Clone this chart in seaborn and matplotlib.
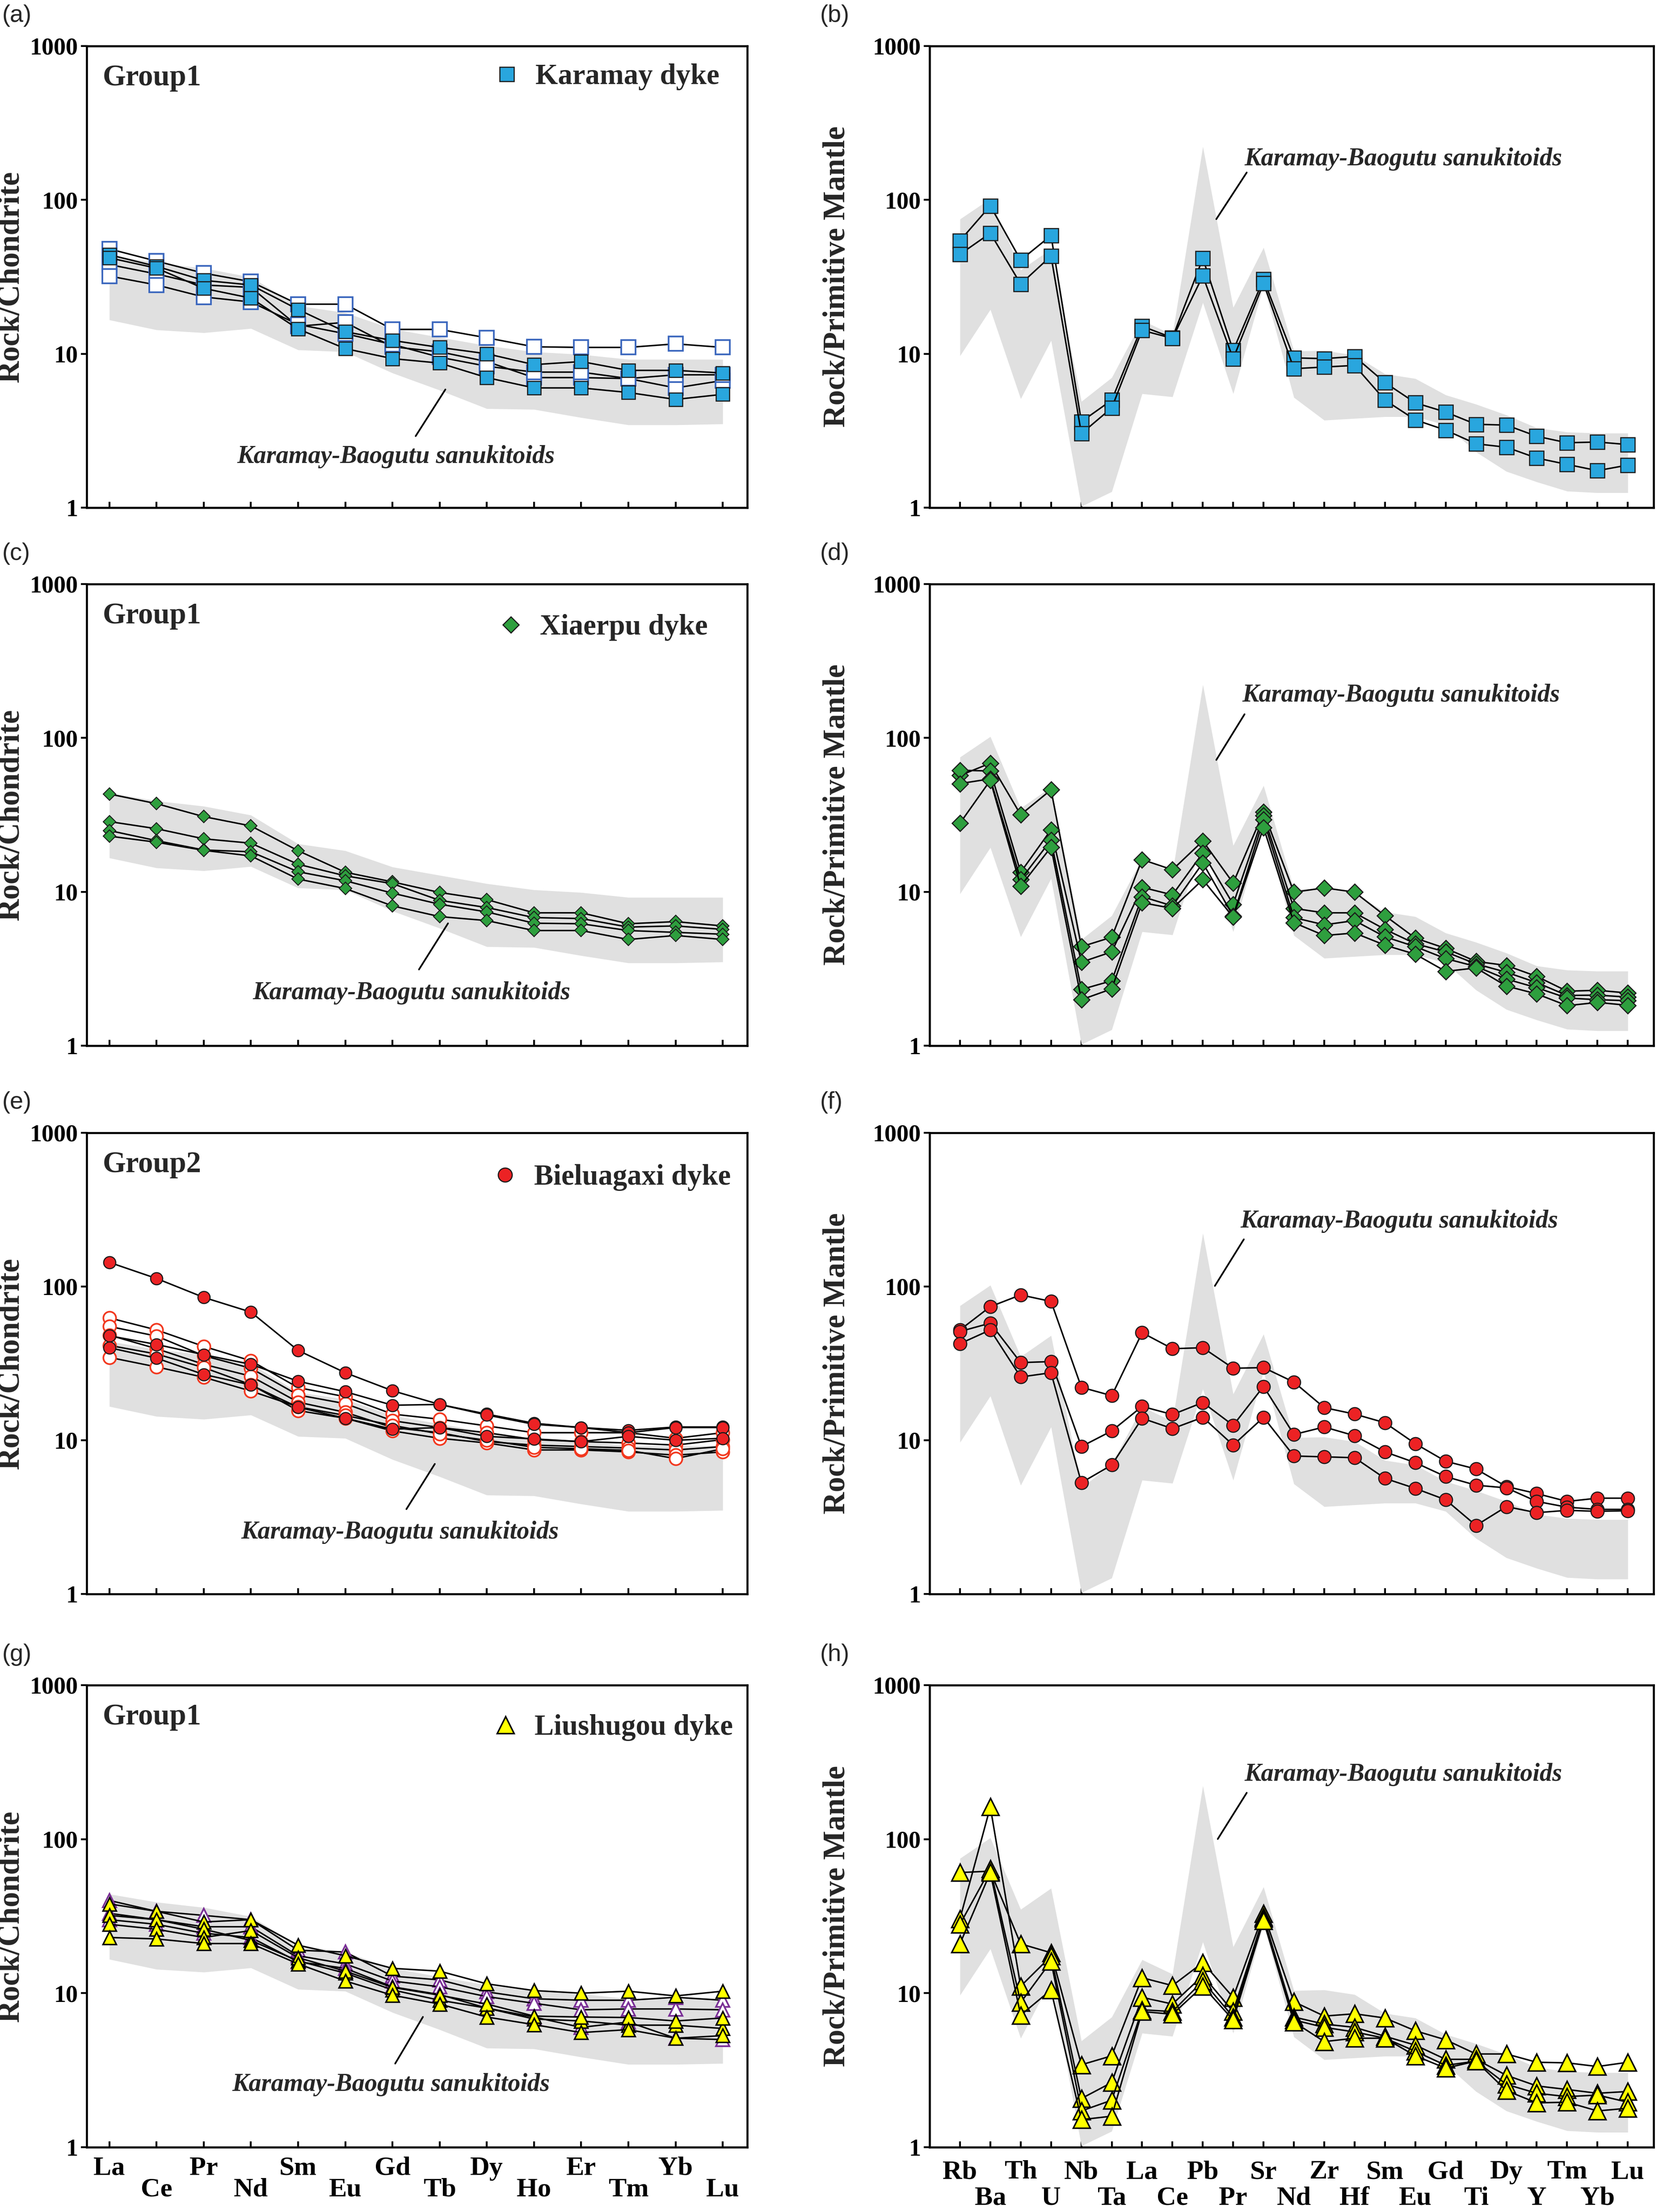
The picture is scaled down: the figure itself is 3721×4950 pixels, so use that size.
import numpy as np
import pandas as pd
import matplotlib
matplotlib.use("Agg")
import matplotlib.pyplot as plt
import seaborn as sns
from matplotlib.lines import Line2D
from matplotlib.ticker import NullLocator

# ---------------- data ----------------
REE = ['La', 'Ce', 'Pr', 'Nd', 'Sm', 'Eu', 'Gd', 'Tb', 'Dy', 'Ho', 'Er', 'Tm', 'Yb', 'Lu']
SPIDER = ['Rb', 'Ba', 'Th', 'U', 'Nb', 'Ta', 'La', 'Ce', 'Pb', 'Pr', 'Sr', 'Nd', 'Zr', 'Hf',
          'Sm', 'Eu', 'Gd', 'Ti', 'Dy', 'Y', 'Tm', 'Yb', 'Lu']

ree_band_upper = [44, 39, 36, 31.5, 20.5, 18.5, 14.5, 12.8, 11.3, 10.3, 9.9, 9.2, 9.2, 9.2]
ree_band_lower = [16.6, 14.3, 13.7, 14.6, 10.6, 10.3, 7.5, 5.8, 4.4, 4.35, 3.85, 3.45, 3.45, 3.5]

spider_band_upper = [75, 102, 35, 48, 4.9, 7.0, 16.5, 13.3, 222, 20, 49, 10.4, 10.5, 9.8,
                     7.4, 6.9, 5.4, 4.7, 4.0, 3.3, 3.1, 3.05, 3.05]
spider_band_lower = [9.7, 19.4, 5.1, 12.2, 1.02, 1.27, 5.5, 5.25, 21.5, 5.5, 28, 5.2, 3.7, 3.8,
                     3.9, 3.9, 3.45, 2.3, 1.72, 1.47, 1.28, 1.25, 1.25]

# (a) Karamay dyke, chondrite-normalised REE
karamay_ree_open = [
    [48, 40, 33.4, 29.4, 21, 21, 14.4, 14.4, 12.7, 11.1, 11.0, 11.0, 11.6, 11.0],
    [38, 33, 28, 27, 15.1, 16, 11.1, 10.3, 8.9, 7.0, 7.0, 6.9, 6.0, 6.7],
    [32, 28, 23.4, 21.7, 15.5, 13.5, 11.5, 9.5, 8.3, 7.6, 7.6, 6.9, 7.3, 7.3],
]
karamay_ree_filled = [
    [44, 37, 30, 28, 19.4, 13.9, 12.2, 11.0, 10.0, 8.5, 8.9, 7.8, 7.8, 7.5],
    [42, 36, 26.6, 23, 14.5, 10.8, 9.3, 8.7, 7.0, 6.0, 6.0, 5.6, 5.05, 5.45],
]
# (b) Karamay dyke, primitive-mantle-normalised
karamay_spider = [
    [54.3, 91.5, 40.6, 58.7, 3.62, 5.0, 15.1, 12.7, 41.7, 10.5, 30.5, 9.4, 9.3, 9.6,
     6.5, 4.8, 4.18, 3.48, 3.44, 2.91, 2.64, 2.67, 2.57],
    [44.3, 60.8, 28.4, 43.2, 3.03, 4.45, 14.2, 12.6, 32.1, 9.3, 28.7, 8.0, 8.2, 8.4,
     5.0, 3.72, 3.19, 2.6, 2.47, 2.1, 1.91, 1.74, 1.89],
]
# (c) Xiaerpu dyke REE
xiaerpu_ree = [
    [43.2, 37.4, 30.8, 26.8, 18.5, 13.4, 11.6, 9.9, 8.9, 7.3, 7.3, 6.2, 6.4, 6.0],
    [28.6, 25.7, 22.1, 20.7, 15.1, 12.7, 11.3, 8.8, 7.9, 6.8, 6.7, 5.9, 6.0, 5.7],
    [25, 21.5, 18.7, 18.2, 13.5, 11.8, 9.8, 8.3, 7.4, 6.25, 6.2, 5.6, 5.45, 5.3],
    [23, 21, 18.6, 17.1, 12.1, 10.5, 8.1, 6.9, 6.5, 5.6, 5.6, 4.9, 5.2, 4.9],
]
# (d) Xiaerpu dyke spider
xiaerpu_spider = [
    [57, 68.5, 31.7, 46, 4.4, 5.07, 16.2, 13.9, 21.4, 11.4, 33, 9.95, 10.6, 9.95,
     7.0, 5.0, 4.29, 3.53, 3.32, 2.82, 2.26, 2.29, 2.2],
    [61.6, 61, 13.4, 25.3, 3.49, 4.07, 10.7, 9.55, 17.9, 8.3, 31.4, 7.8, 7.3, 7.3,
     5.7, 4.6, 4.07, 3.4, 3.0, 2.57, 2.12, 2.13, 2.07],
    [50.5, 54.2, 12, 21.7, 2.32, 2.64, 9.3, 8.1, 15.4, 6.96, 29.4, 6.8, 6.1, 6.5,
     5.1, 4.4, 3.68, 3.27, 2.71, 2.38, 2.04, 1.99, 1.96],
    [27.9, 53, 10.9, 19.5, 1.99, 2.34, 8.5, 7.8, 12, 6.85, 26.2, 6.3, 5.2, 5.4,
     4.5, 3.93, 3.04, 3.2, 2.44, 2.17, 1.82, 1.91, 1.83],
]
# (e) Bieluagaxi dyke REE
bieluagaxi_ree_open = [
    [62.5, 52.2, 40.8, 32.9, 22, 19.2, 14.8, 13.7, 12.4, 11.2, 11.2, 11.2, 10.3, 11.2],
    [55, 47.6, 35.5, 29.4, 19.7, 17.3, 13.4, 12.1, 11.2, 10.1, 9.8, 9.6, 9.3, 10.1],
    [48.3, 39.4, 31.2, 26.1, 17.7, 15.2, 12.1, 11.2, 9.8, 9.3, 9.1, 8.9, 8.65, 9.1],
    [41.4, 36.4, 29.7, 23, 15.6, 13.9, 11.5, 10.3, 9.6, 8.65, 8.65, 8.4, 8.0, 8.4],
    [34.6, 30, 25.7, 20.9, 16.5, 14.5, 12.5, 11.0, 10.0, 9.0, 8.8, 8.6, 7.6, 8.8],
]
bieluagaxi_ree_filled = [
    [143.6, 112.8, 85, 68.2, 38.4, 27.5, 21, 17.1, 14.8, 12.9, 12.1, 11.6, 12.2, 12.2],
    [47.8, 42, 36, 31.2, 24.2, 20.7, 16.9, 17.1, 14.6, 12.7, 12.1, 11.2, 12.1, 12.1],
    [40, 34.2, 26.8, 22.9, 16.4, 13.9, 11.8, 12.1, 10.6, 10.2, 9.8, 10.6, 10.0, 10.3],
]
# (f) Bieluagaxi dyke spider
bieluagaxi_spider = [
    [52.2, 74, 88.2, 80, 22.1, 19.5, 50.1, 39.4, 40, 29.4, 29.7, 23.9, 16.3, 14.8,
     13.0, 9.5, 7.3, 6.5, 5.0, 4.5, 4.0, 4.2, 4.2],
    [51, 57.8, 32, 32.5, 9.1, 11.5, 16.6, 14.7, 17.6, 12.5, 22.4, 10.9, 12.2, 10.7,
     8.4, 7.15, 5.8, 5.1, 4.9, 4.0, 3.67, 3.55, 3.55],
    [42.5, 52.2, 25.8, 27.5, 5.3, 6.9, 13.9, 11.9, 14.1, 9.3, 14.1, 7.9, 7.8, 7.7,
     5.65, 4.86, 4.1, 2.79, 3.7, 3.38, 3.5, 3.45, 3.48],
]
# (g) Liushugou dyke REE
liushugou_ree_open = [
    [40, 34, 32, 30, 19, 18.5, 12.9, 12.2, 10.2, 9.2, 9.0, 9.0, 9.4, 9.0],
    [33, 30, 27, 27, 17.5, 15.5, 12.0, 11.0, 9.5, 8.6, 7.8, 7.9, 7.9, 7.8],
    [30, 28, 24.5, 23, 16.0, 14.5, 11.0, 9.8, 8.0, 7.0, 6.0, 6.5, 5.1, 5.0],
]
liushugou_ree_filled = [
    [38, 34, 29, 30, 20.5, 17.5, 14.5, 13.9, 11.5, 10.4, 10.0, 10.3, 9.6, 10.3],
    [32, 30, 26, 22, 16.2, 13.5, 10.5, 9.0, 8.0, 6.8, 6.6, 6.2, 6.2, 5.9],
    [28, 26, 23, 25.5, 17.0, 13.9, 10.9, 9.7, 8.5, 7.1, 7.0, 6.95, 6.6, 6.9],
    [23, 22.5, 21, 21, 15.5, 12, 9.7, 8.5, 7.0, 6.25, 5.55, 5.8, 5.1, 5.3],
]
# (h) Liushugou dyke spider
liushugou_spider = [
    [60.7, 62, 20.9, 18.3, 3.43, 3.92, 12.6, 11.2, 15.8, 9.4, 32.9, 8.8, 7.1, 7.35,
     6.9, 5.7, 4.98, 4.03, 4.03, 3.56, 3.53, 3.34, 3.56],
    [30.4, 162, 11.1, 17.4, 2.07, 2.63, 9.4, 8.5, 13, 7.6, 31.2, 7.0, 6.3, 6.0,
     5.25, 4.6, 3.72, 3.72, 2.93, 2.5, 2.37, 2.24, 2.3],
    [28, 64, 8.7, 16.1, 1.72, 2.02, 7.8, 7.6, 12, 7.0, 30.5, 6.7, 6.0, 5.6,
     5.1, 4.2, 3.4, 3.62, 2.56, 2.24, 2.13, 2.18, 1.96],
    [20.9, 60.7, 7.2, 10.5, 1.51, 1.59, 7.6, 7.3, 11.1, 6.7, 29.6, 6.5, 4.85, 5.1,
     5.1, 3.92, 3.26, 3.62, 2.33, 1.94, 1.96, 1.72, 1.79],
]

panel_letters = ['(a)', '(b)', '(c)', '(d)', '(e)', '(f)', '(g)', '(h)']
group_labels = ['Group1', 'Group1', 'Group2', 'Group1']
dyke_names = ['Karamay dyke', 'Xiaerpu dyke', 'Bieluagaxi dyke', 'Liushugou dyke']
band_label = 'Karamay-Baogutu sanukitoids'

# ---------------- style ----------------
sns.set_theme(style="ticks")
plt.rcParams['font.family'] = ['Liberation Serif', 'DejaVu Serif']

BLUE = '#29a6de'
BLUE_EDGE = '#3a66bd'
GREEN = '#2e9f3e'
RED = '#ec2224'
RED_EDGE = '#f2381f'
YELLOW = '#ffff00'
PURPLE = '#7a2f96'
BAND = '#e0e0e0'
DARK = '#1a1a1a'

W, H = 3721, 4950
fig = plt.figure(figsize=(W / 300, H / 300), dpi=300)

rows_px = [(103, 1136), (1307, 2340), (2535, 3567), (3771, 4805)]
left_px = (194, 1672)
right_px = (2080, 3700)


def make_ax(xpx, ypx):
    x0, x1 = xpx
    y0, y1 = ypx
    return fig.add_axes([x0 / W, 1 - y1 / H, (x1 - x0) / W, (y1 - y0) / H])


def style_axes(ax, names, xlim, show_labels, ylabel, ylabel_x, pads):
    ax.set_yscale('log')
    ax.set_ylim(1, 1000)
    ax.set_xlim(*xlim)
    ax.set_yticks([1, 10, 100, 1000])
    ax.set_yticklabels(['1', '10', '100', '1000'], fontsize=13, fontweight='bold')
    ax.yaxis.set_minor_locator(NullLocator())
    pos = np.arange(len(names))
    ax.set_xticks(pos[0::2])
    ax.set_xticks(pos[1::2], minor=True)
    if show_labels:
        ax.set_xticklabels(names[0::2], fontsize=14.5, fontweight='bold')
        ax.set_xticklabels(names[1::2], minor=True, fontsize=14.5, fontweight='bold')
    else:
        ax.set_xticklabels([])
        ax.set_xticklabels([], minor=True)
    ax.tick_params(axis='x', which='major', direction='in', length=3.2, width=1.0,
                   pad=pads[0], colors='black', bottom=True, top=False)
    ax.tick_params(axis='x', which='minor', direction='in', length=3.2, width=1.0,
                   pad=pads[1], colors='black', bottom=True, top=False)
    ax.tick_params(axis='y', direction='out', length=3.2, width=1.0, pad=1.5, colors='black')
    for s in ax.spines.values():
        s.set_visible(True)
        s.set_linewidth(1.1)
        s.set_color('black')
    ax.set_xlabel('')
    ax.set_ylabel(ylabel, fontsize=16.5, fontweight='bold')
    ax.yaxis.set_label_coords(ylabel_x, 0.5)
    ax.set_facecolor('white')


def draw_series(ax, vals, marker, ms, fc, ec, mew=0.7, z=3):
    x = np.arange(len(vals))
    sns.lineplot(x=x, y=np.asarray(vals, float), ax=ax, color='black', linewidth=0.8,
                 marker=marker, markersize=ms, markerfacecolor=fc, markeredgecolor=ec,
                 markeredgewidth=mew, errorbar=None, legend=False, sort=False, zorder=z)


def draw_band(ax, lo, hi):
    x = np.arange(len(lo))
    ax.fill_between(x, lo, hi, color=BAND, lw=0, zorder=1)


def annotate_band(ax, text_xy, line_from, line_to):
    ax.text(text_xy[0], text_xy[1], band_label, transform=ax.transAxes, ha='center',
            va='center', fontsize=13.5, fontweight='bold', fontstyle='italic', zorder=6)
    ax.plot([line_from[0], line_to[0]], [line_from[1], line_to[1]], transform=ax.transAxes,
            color='black', lw=0.9, zorder=6)


def add_group_legend(ax, group, name, handle, anchor):
    ax.text(0.024, 0.96, group, transform=ax.transAxes, ha='left', va='top',
            fontsize=16, fontweight='bold', zorder=6)
    ax.legend(handles=[handle], labels=[name], loc='upper right', bbox_to_anchor=anchor,
              bbox_transform=ax.transAxes, frameon=False, borderpad=0, borderaxespad=0,
              handlelength=0.9, handletextpad=0.55,
              prop={'family': 'Liberation Serif', 'weight': 'bold', 'size': 15.5})


ree_xlim = (-0.48, 13.52)
sp_xlim = (-1.0, 22.85)

axes = []
for r, (y0, y1) in enumerate(rows_px):
    axL = make_ax(left_px, (y0, y1))
    axR = make_ax(right_px, (y0, y1))
    axes.append((axL, axR))

# ---- row 1: Karamay ----
axL, axR = axes[0]
draw_band(axL, ree_band_lower, ree_band_upper)
for v in karamay_ree_open:
    draw_series(axL, v, 's', 7.5, 'white', BLUE_EDGE, 0.9, 3)
for v in karamay_ree_filled:
    draw_series(axL, v, 's', 7.0, BLUE, DARK, 0.6, 4)
draw_band(axR, spider_band_lower, spider_band_upper)
for v in karamay_spider:
    draw_series(axR, v, 's', 7.5, BLUE, DARK, 0.6, 4)

# ---- row 2: Xiaerpu ----
axL, axR = axes[1]
draw_band(axL, ree_band_lower, ree_band_upper)
for v in xiaerpu_ree:
    draw_series(axL, v, 'D', 4.6, GREEN, DARK, 0.5, 4)
draw_band(axR, spider_band_lower, spider_band_upper)
for v in xiaerpu_spider:
    draw_series(axR, v, 'D', 6.2, GREEN, DARK, 0.6, 4)

# ---- row 3: Bieluagaxi ----
axL, axR = axes[2]
draw_band(axL, ree_band_lower, ree_band_upper)
for v in bieluagaxi_ree_open:
    draw_series(axL, v, 'o', 6.8, 'white', RED_EDGE, 0.9, 3)
for v in bieluagaxi_ree_filled:
    draw_series(axL, v, 'o', 6.5, RED, DARK, 0.6, 4)
draw_band(axR, spider_band_lower, spider_band_upper)
for v in bieluagaxi_spider:
    draw_series(axR, v, 'o', 7.0, RED, DARK, 0.6, 4)

# ---- row 4: Liushugou ----
axL, axR = axes[3]
draw_band(axL, ree_band_lower, ree_band_upper)
for v in liushugou_ree_open:
    draw_series(axL, v, '^', 7.3, 'white', PURPLE, 0.9, 3)
for v in liushugou_ree_filled:
    draw_series(axL, v, '^', 7.3, YELLOW, 'black', 0.8, 4)
draw_band(axR, spider_band_lower, spider_band_upper)
for v in liushugou_spider:
    draw_series(axR, v, '^', 9.0, YELLOW, 'black', 0.8, 4)

# ---- axes styling ----
for r, (axL, axR) in enumerate(axes):
    last = (r == 3)
    style_axes(axL, REE, ree_xlim, last, 'Rock/Chondrite', -0.093, (5, 16.5))
    style_axes(axR, SPIDER, sp_xlim, last, 'Rock/Primitive Mantle', -0.108, (7, 21))

# group labels and legends
handles = [
    Line2D([0], [0], ls='none', marker='s', ms=7.5, mfc=BLUE, mec=DARK, mew=0.6),
    Line2D([0], [0], ls='none', marker='D', ms=6.0, mfc=GREEN, mec=DARK, mew=0.6),
    Line2D([0], [0], ls='none', marker='o', ms=7.5, mfc=RED, mec=DARK, mew=0.6),
    Line2D([0], [0], ls='none', marker='^', ms=9.0, mfc=YELLOW, mec='black', mew=0.8),
]
anchors = [(0.958, 0.962), (0.94, 0.935), (0.975, 0.932), (0.978, 0.937)]
for r in range(4):
    add_group_legend(axes[r][0], group_labels[r], dyke_names[r], handles[r], anchors[r])

# band annotations (left = REE, right = spider)
left_annot = [
    ((0.468, 0.110), (0.498, 0.155), (0.543, 0.256)),
    ((0.492, 0.114), (0.503, 0.165), (0.547, 0.265)),
    ((0.474, 0.134), (0.484, 0.184), (0.527, 0.282)),
    ((0.461, 0.135), (0.467, 0.181), (0.509, 0.282)),
]
right_annot = [
    ((0.654, 0.755), (0.438, 0.726), (0.396, 0.625)),
    ((0.651, 0.759), (0.435, 0.718), (0.396, 0.619)),
    ((0.649, 0.808), (0.434, 0.769), (0.394, 0.668)),
    ((0.654, 0.807), (0.438, 0.767), (0.398, 0.667)),
]
for r in range(4):
    annotate_band(axes[r][0], *left_annot[r])
    annotate_band(axes[r][1], *right_annot[r])

# panel letters
for r, (y0, y1) in enumerate(rows_px):
    yc = 1 - (y0 - 68) / H
    fig.text(5 / W, yc, panel_letters[2 * r], ha='left', va='center', fontsize=13,
             family=['Liberation Sans', 'DejaVu Sans'])
    fig.text(1835 / W, yc, panel_letters[2 * r + 1], ha='left', va='center', fontsize=13,
             family=['Liberation Sans', 'DejaVu Sans'])

fig.savefig('out.png', dpi=300, facecolor='white')
